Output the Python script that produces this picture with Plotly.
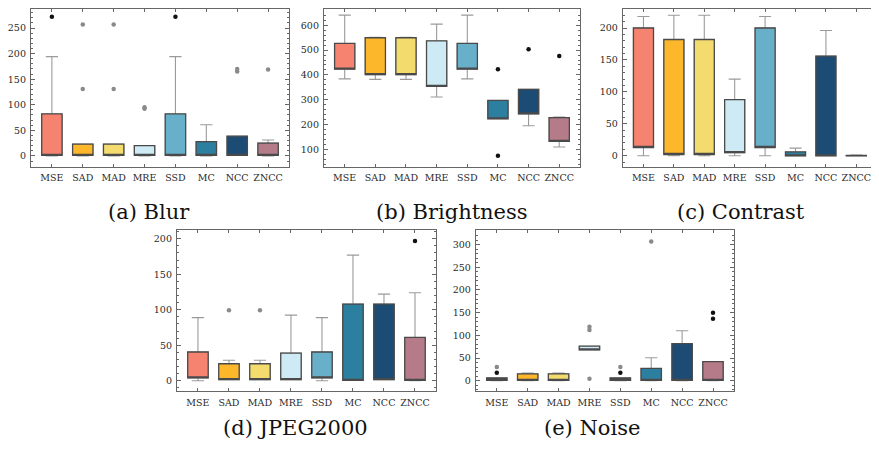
import plotly.graph_objects as go

categories = ["MSE", "SAD", "MAD", "MRE", "SSD", "MC", "NCC", "ZNCC"]
colors = ["#F5836F", "#FDB72B", "#F3DB6E", "#CDEAF5", "#68AFCA", "#2C7F9E", "#1C4C74", "#B67B89"]

# (a) Blur
blur_q1 = [1, 1, 1, 1, 1, 1, 1, 1]
blur_q3 = [82, 23, 23, 20, 82, 28, 38.5, 25]
blur_lo = [0, 0, 0, 0, 0, 0, 1, 0]
blur_hi = [194, 23, 23, 20, 194, 61, 38.5, 31]
blur_out_cat = ["MSE", "SAD", "SAD", "MAD", "MAD", "MRE", "MRE", "SSD", "NCC", "NCC", "ZNCC"]
blur_out_val = [272, 257, 131, 257, 131, 92, 95, 272, 165, 170, 169]
blur_out_far = [1, 0, 0, 0, 0, 0, 0, 1, 0, 0, 0]

# (b) Brightness
bright_q1 = [423, 401, 401, 354, 423, 223, 243, 132]
bright_q3 = [527, 550, 550, 537, 527, 297, 342, 228]
bright_lo = [384, 382, 382, 311, 384, 223, 195, 109]
bright_hi = [641, 552, 552, 605, 641, 297, 342, 230]
bright_out_cat = ["MC", "MC", "NCC", "ZNCC"]
bright_out_val = [423, 74, 504, 476]
bright_out_far = [1, 1, 1, 1]

# (c) Contrast
contrast_q1 = [13, 2, 2, 5, 13, 0, 0, 0]
contrast_q3 = [200, 182, 182, 88, 200, 6, 156, 0.5]
contrast_lo = [0, 0, 0, 0, 0, 0, 0, 0]
contrast_hi = [218, 220, 220, 120, 218, 12, 196, 1]
contrast_out_cat = []
contrast_out_val = []
contrast_out_far = []

# (d) JPEG2000
jpeg_q1 = [4, 1.5, 1.5, 1.5, 4, 0.5, 1.5, 0.5]
jpeg_q3 = [40.5, 24, 24, 39, 40.5, 108, 108, 61]
jpeg_lo = [0, 1.5, 1.5, 1.5, 0, 0.5, 1.5, 0]
jpeg_hi = [89, 29, 29, 92.5, 89, 177, 122, 124]
jpeg_out_cat = ["SAD", "MAD", "ZNCC"]
jpeg_out_val = [99.5, 99.5, 197]
jpeg_out_far = [0, 0, 1]

# (e) Noise
noise_q1 = [0.5, 0.5, 0.5, 68, 0.5, 0.5, 0.5, 0.5]
noise_q3 = [6, 15, 15, 76, 6, 27, 81.5, 42]
noise_lo = [0, 0, 0, 68, 0, 0, 0, 0]
noise_hi = [6, 17, 17, 76, 6, 50.5, 110, 42]
noise_out_cat = ["MSE", "MSE", "MRE", "MRE", "MRE", "SSD", "SSD", "MC", "ZNCC", "ZNCC"]
noise_out_val = [17.6, 30, 119, 112, 4.4, 17.6, 30, 307, 150, 136.5]
noise_out_far = [1, 0, 0, 0, 0, 1, 0, 0, 1, 1]

captions = ["(a) Blur", "(b) Brightness", "(c) Contrast", "(d) JPEG2000", "(e) Noise"]

panels = [
    (blur_q1, blur_q3, blur_lo, blur_hi, blur_out_cat, blur_out_val, blur_out_far),
    (bright_q1, bright_q3, bright_lo, bright_hi, bright_out_cat, bright_out_val, bright_out_far),
    (contrast_q1, contrast_q3, contrast_lo, contrast_hi, contrast_out_cat, contrast_out_val, contrast_out_far),
    (jpeg_q1, jpeg_q3, jpeg_lo, jpeg_hi, jpeg_out_cat, jpeg_out_val, jpeg_out_far),
    (noise_q1, noise_q3, noise_lo, noise_hi, noise_out_cat, noise_out_val, noise_out_far),
]

# layout geometry (page pixels; the page body adds an 8px offset)
OFF = 8
W, H = 879 - OFF, 449 - OFF
frames = [  # x0, x1, ytop, ybottom in page pixels
    (25, 285, 4, 166),
    (320, 578, 4, 166),
    (621, 877, 4, 166),
    (172, 433, 230, 391),
    (473, 733, 230, 391),
]
yranges = [[-21, 295], [30, 682], [-17, 236], [-14.6, 211.7], [-23, 331]]
ytickvals = [[0, 50, 100, 150, 200, 250], [100, 200, 300, 400, 500, 600],
             [0, 50, 100, 150, 200], [0, 50, 100, 150, 200],
             [0, 50, 100, 150, 200, 250, 300]]
ydticks = [10, 20, 10, 10, 10]
caption_pos = [(143.5, 211), (449, 211), (740.5, 211), (291.5, 428), (590.5, 428)]

SERIF = "DejaVu Serif"
fig = go.Figure()
layout = dict(width=W, height=H, margin=dict(l=0, r=0, t=0, b=0),
              paper_bgcolor="white", plot_bgcolor="white", showlegend=False,
              boxmode="overlay", annotations=[])

for i, (q1, q3, lo, hi, ocat, oval, ofar) in enumerate(panels):
    n = "" if i == 0 else str(i + 1)
    xa, ya = "x" + n, "y" + n
    for j, cat in enumerate(categories):
        # whiskers layer
        fig.add_trace(go.Box(
            x=[cat], q1=[q1[j]], median=[q1[j]], q3=[q3[j]],
            lowerfence=[lo[j]], upperfence=[hi[j]],
            fillcolor=colors[j], line=dict(color="#9a9a9a", width=1.1),
            whiskerwidth=0.6, width=0.66, boxpoints=False,
            xaxis=xa, yaxis=ya, hoverinfo="skip"))
        # box layer
        fig.add_trace(go.Box(
            x=[cat], q1=[q1[j]], median=[q1[j]], q3=[q3[j]],
            lowerfence=[q1[j]], upperfence=[q3[j]],
            fillcolor=colors[j], line=dict(color="#4a4a4a", width=1.3),
            whiskerwidth=0, width=0.66, boxpoints=False,
            xaxis=xa, yaxis=ya, hoverinfo="skip"))
    if ocat:
        fig.add_trace(go.Scatter(
            x=ocat, y=oval, mode="markers",
            marker=dict(size=4.5, color=["#111111" if f else "#8a8a8a" for f in ofar]),
            xaxis=xa, yaxis=ya, hoverinfo="skip"))
    px0, px1, pyt, pyb = frames[i]
    rlo, rhi = yranges[i]
    # clamp the top edge into the figure, keeping the value scale unchanged
    new_pyt = max(pyt, OFF + 0.5)
    rhi = rhi - (rhi - rlo) * (new_pyt - pyt) / (pyb - pyt)
    x0, x1, yt, yb = px0 - OFF, px1 - OFF, new_pyt - OFF, pyb - OFF
    axis_common = dict(showline=True, linecolor="#666666", linewidth=1, mirror="ticks",
                       ticks="inside", tickcolor="#666666", showgrid=False, zeroline=False,
                       tickfont=dict(family=SERIF, size=9.5, color="#2a2a2a"))
    layout["xaxis" + n] = dict(axis_common, domain=[x0 / W, x1 / W], anchor=ya,
                               type="category", categoryorder="array", categoryarray=categories,
                               range=[-0.68, 7.68], ticklen=3, ticklabelstandoff=2)
    layout["yaxis" + n] = dict(axis_common, domain=[1 - yb / H, 1 - yt / H], anchor=xa,
                               range=[rlo, rhi], tickvals=ytickvals[i], ticklen=4,
                               minor=dict(ticks="inside", ticklen=2, dtick=ydticks[i],
                                          tickcolor="#666666", showgrid=False),
                               ticklabelstandoff=2)
    cx, cy = caption_pos[i]
    layout["annotations"].append(dict(
        text=captions[i], xref="paper", yref="paper", x=(cx - OFF) / W, y=1 - (cy - OFF) / H,
        xanchor="center", yanchor="middle", showarrow=False,
        font=dict(family=SERIF, size=21, color="#111111")))

fig.update_layout(**layout)
fig.write_html("out.html")
